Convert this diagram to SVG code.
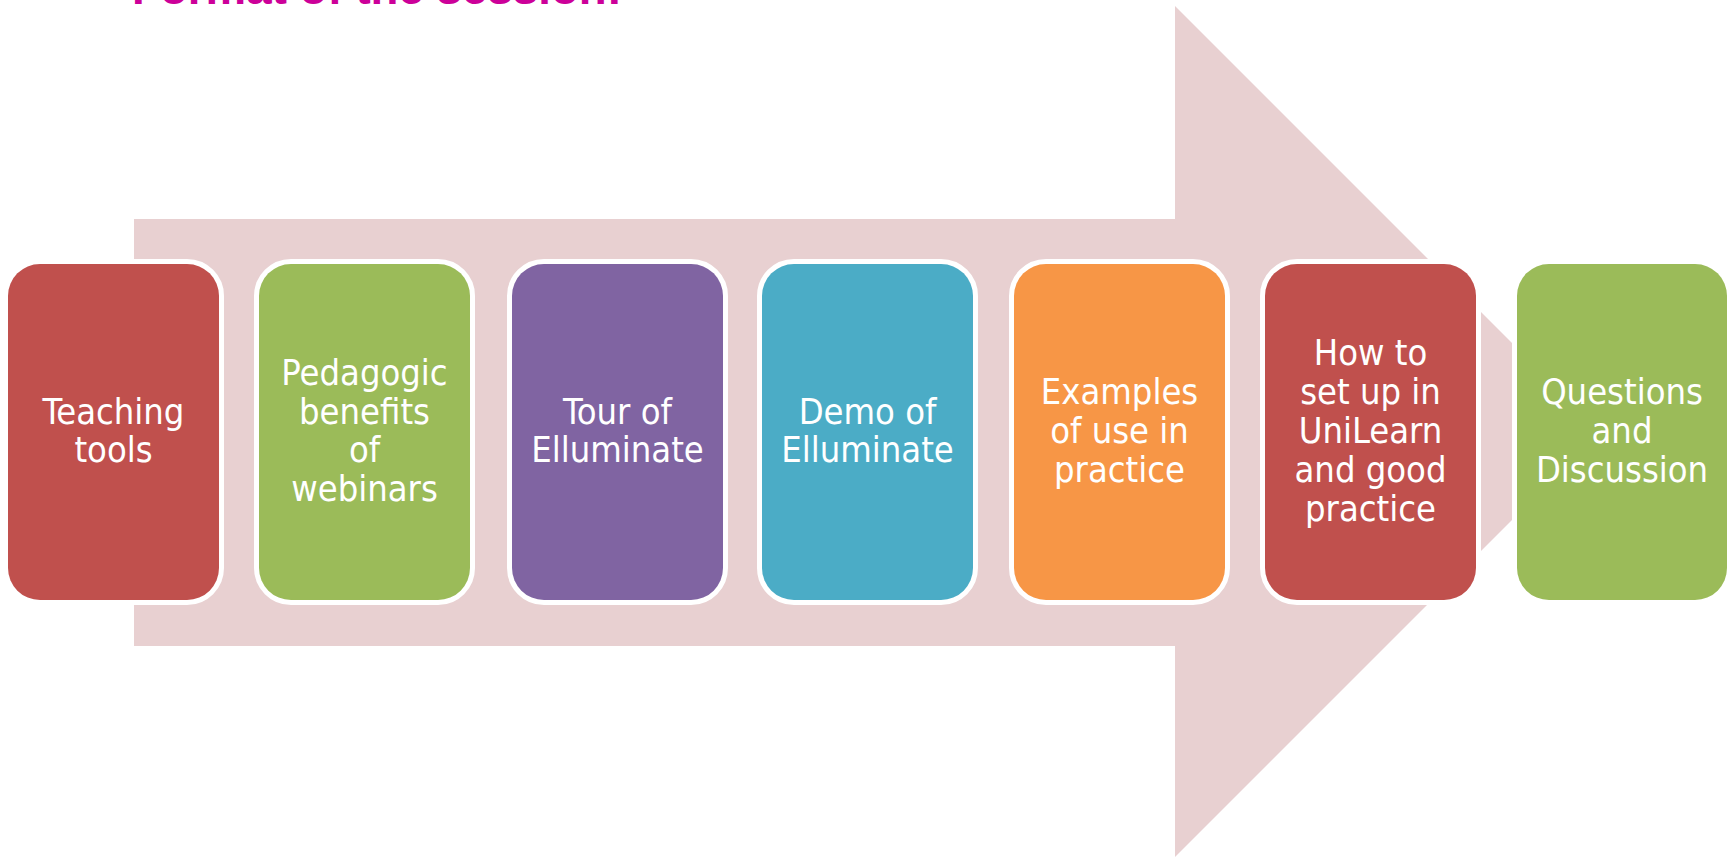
<svg xmlns="http://www.w3.org/2000/svg" width="1728" height="858" viewBox="0 0 1728 858">
  <style>
    .box { stroke: #FFFFFF; stroke-width: 10; paint-order: stroke; }
    .lbl { font-family: "DejaVu Sans Condensed", "Noto Sans", "DejaVu Sans", sans-serif; font-size: 36px; fill: #FFFFFF; text-anchor: middle; }
    .title { font-family: "Liberation Sans", Arial, sans-serif; font-weight: bold; font-size: 44px; fill: #CC0099; }
  </style>
  <rect x="0" y="0" width="1728" height="858" fill="#FFFFFF"/>
  <text class="title" x="132" y="4" textLength="490" lengthAdjust="spacingAndGlyphs">Format of the session:</text>
  <g id="background-arrow">
    <path d="M134,219 H1175 V6 L1600.5,431.5 L1175,857 V646 H134 Z" fill="#E8D0D1"/>
  </g>
  <g id="node-teaching">
    <rect class="box" x="8" y="264" width="211" height="336" rx="32" fill="#C0504D"/>
    <text class="lbl"><tspan x="113.5" y="423.5">Teaching</tspan><tspan x="113.5" y="462.3">tools</tspan></text>
  </g>
  <g id="node-pedagogic">
    <rect class="box" x="259" y="264" width="211" height="336" rx="32" fill="#9BBB59"/>
    <text class="lbl"><tspan x="364.5" y="384.8">Pedagogic</tspan><tspan x="364.5" y="423.5">benefits</tspan><tspan x="364.5" y="462.3">of</tspan><tspan x="364.5" y="501">webinars</tspan></text>
  </g>
  <g id="node-tour">
    <rect class="box" x="512" y="264" width="211" height="336" rx="32" fill="#8064A2"/>
    <text class="lbl"><tspan x="617.5" y="423.5">Tour of</tspan><tspan x="617.5" y="462.3">Elluminate</tspan></text>
  </g>
  <g id="node-demo">
    <rect class="box" x="762" y="264" width="211" height="336" rx="32" fill="#4BACC6"/>
    <text class="lbl"><tspan x="867.5" y="423.5">Demo of</tspan><tspan x="867.5" y="462.3">Elluminate</tspan></text>
  </g>
  <g id="node-examples">
    <rect class="box" x="1014" y="264" width="211" height="336" rx="32" fill="#F79646"/>
    <text class="lbl"><tspan x="1119.5" y="404.2">Examples</tspan><tspan x="1119.5" y="443">of use in</tspan><tspan x="1119.5" y="481.8">practice</tspan></text>
  </g>
  <g id="node-howto">
    <rect class="box" x="1265" y="264" width="211" height="336" rx="32" fill="#C0504D"/>
    <text class="lbl"><tspan x="1370.5" y="365.4">How to</tspan><tspan x="1370.5" y="404.2">set up in</tspan><tspan x="1370.5" y="443">UniLearn</tspan><tspan x="1370.5" y="481.8">and good</tspan><tspan x="1370.5" y="520.6">practice</tspan></text>
  </g>
  <g id="node-questions">
    <rect class="box" x="1517" y="264" width="210" height="336" rx="32" fill="#9BBB59"/>
    <text class="lbl"><tspan x="1622" y="404.2">Questions</tspan><tspan x="1622" y="443">and</tspan><tspan x="1622" y="481.8">Discussion</tspan></text>
  </g>
</svg>
